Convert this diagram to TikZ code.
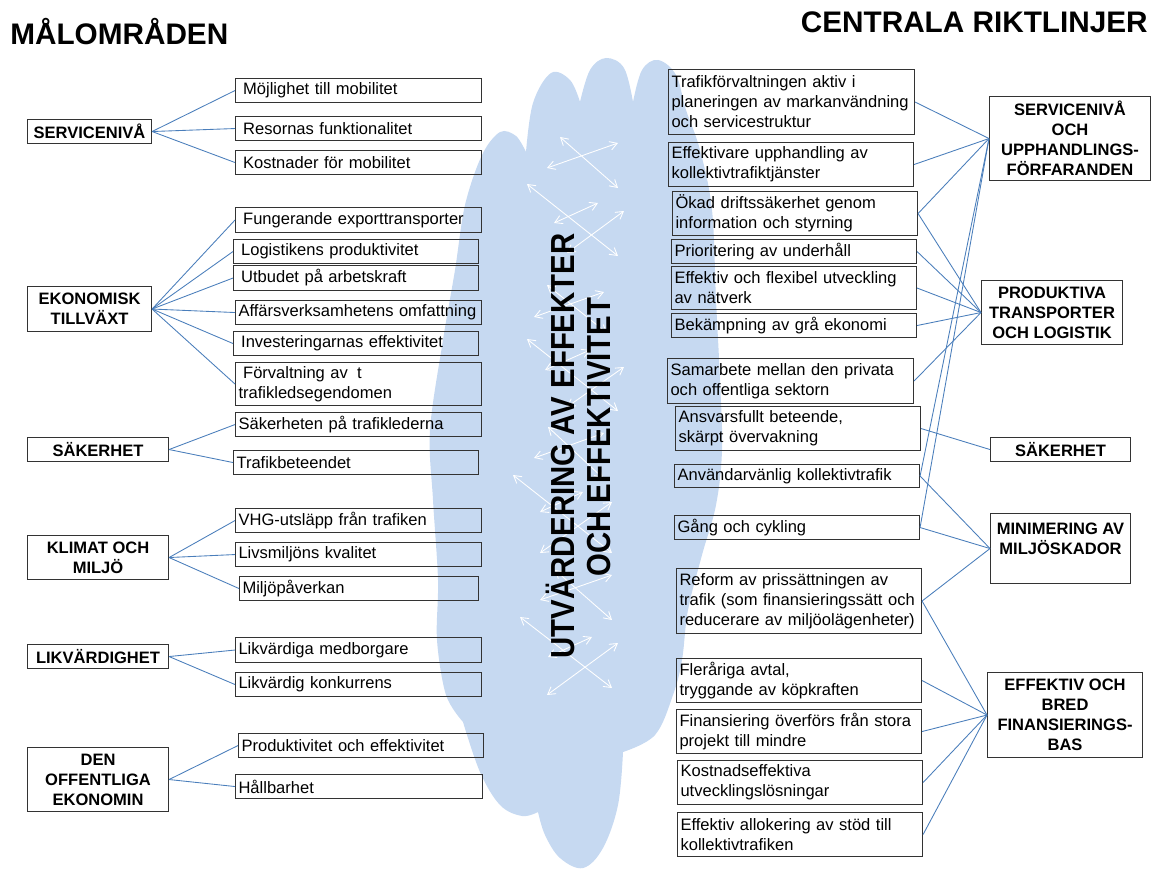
\documentclass[tikz,border=0pt]{standalone}
\usepackage{fontspec}
\setmainfont{Liberation Sans}
\usetikzlibrary{arrows.meta}
\definecolor{cloudc}{HTML}{C6D9F1}
\definecolor{connc}{HTML}{4A7EBB}
\newcommand\mybox[6]{%
  \pgfmathsetmacro\mbw{(#4-#2)*0.75-4.5}%
  \pgfmathsetmacro\mbh{(#5-#3)*0.75}%
  \node[itembox, text width=\mbw pt, minimum height=\mbh pt] (#1) at (#2,#3) {#6};}
\newcommand\catbox[6]{%
  \pgfmathsetmacro\mbw{(#4-#2)*0.75}%
  \pgfmathsetmacro\mbh{(#5-#3)*0.75}%
  \node[catnode, minimum width=\mbw pt, minimum height=\mbh pt] (#1) at (#2,#3) {#6};}
\newcommand\lsp{\hspace*{0.28em}}
\begin{document}
\begin{tikzpicture}[x=0.75pt,y=-0.75pt,
  txt/.style={font=\fontsize{12.4}{15}\selectfont},
  itembox/.style={draw=black!80, line width=0.8pt, anchor=north west, align=left,
    inner xsep=2.25pt, inner ysep=0pt, txt},
  catnode/.style={draw=black!80, line width=0.8pt, anchor=north west, align=center,
    inner sep=0pt, font=\fontsize{12.4}{15}\selectfont\bfseries},
  conn/.style={draw=connc, line width=0.65pt},
  warr/.style={draw=white, line width=0.65pt,
    {Straight Barb[length=5.5pt,width=6.5pt]}-{Straight Barb[length=5.5pt,width=6.5pt]}},
  titletxt/.style={inner sep=0pt, font=\fontsize{22.3}{26}\selectfont\bfseries},
  vtxt/.style={rotate=90, anchor=base, inner sep=0pt, font=\fontsize{25}{30}\selectfont\bfseries}
]
\useasboundingbox (0,0) rectangle (1153,870);

% cloud
\fill[cloudc] plot[smooth, tension=0.55] coordinates {(463,722) (446,695) (437,640) (438,580) (433,500) (430,430) (443,340) (455,270) (465,205) (482,155) (500,132) (516,136) (526,152)}
 -- plot[smooth, tension=0.6] coordinates {(526,152) (533,103) (551,73) (570,80) (580,102)}
 -- plot[smooth, tension=0.6] coordinates {(580,102) (590,70) (606,58) (624,68) (633,102)}
 -- plot[smooth, tension=0.6] coordinates {(633,102) (642,70) (658,60) (676,75) (686,110) (700,150) (712,210) (716,300) (720,380) (722,450) (716,505) (702,555) (688,610) (682,660) (673,695) (655,735) (623,752)}
 -- plot[smooth, tension=0.6] coordinates {(623,752) (618,805) (603,848) (583,868) (560,858) (545,835) (538,812)}
 -- plot[smooth, tension=0.6] coordinates {(538,812) (522,816) (500,805) (480,772) (463,722)}
 -- cycle;

% arrows in the cloud
\draw[warr] (560,137) -- (618,188);
\draw[warr] (618,143) -- (547,168);
\draw[warr] (527,184) -- (618,256);
\draw[warr] (598,203) -- (554,223);
\draw[warr] (624,211) -- (567,253);
\draw[warr] (547,285) -- (607,333);
\draw[warr] (604,292) -- (534,317);
\draw[warr] (527,339) -- (618,411);
\draw[warr] (590,350) -- (545,370);
\draw[warr] (624,367) -- (567,407);
\draw[warr] (548,427) -- (603,478);
\draw[warr] (604,433) -- (534,458);
\draw[warr] (513,475) -- (612,553);
\draw[warr] (583,492) -- (540,512);
\draw[warr] (612,502) -- (540,553);
\draw[warr] (555,570) -- (612,620);
\draw[warr] (612,575) -- (540,600);
\draw[warr] (520,617) -- (612,688);
\draw[warr] (592,637) -- (548,657);
\draw[warr] (618,643) -- (547,695);

% vertical text
\node[vtxt] (v1) at (574,446) {\scalebox{0.88}[1]{UTVÄRDERING AV EFFEKTER}};
\node[vtxt] (v2) at (610,437) {\scalebox{0.88}[1]{OCH EFFEKTIVITET}};

% titles
\node[titletxt, anchor=base west] (t1) at (10,45) {MÅLOMRÅDEN};
\node[titletxt, anchor=base east] (t2) at (1148,33) {CENTRALA RIKTLINJER};

% left categories
\catbox{c1}{27}{119}{151}{143}{SERVICENIVÅ}
\catbox{c2}{27}{286}{151}{331}{EKONOMISK\\TILLVÄXT}
\catbox{c3}{27}{437}{168}{461}{SÄKERHET}
\catbox{c4}{27}{535}{168}{579}{KLIMAT OCH\\MILJÖ}
\catbox{c5}{27}{644}{168}{668}{LIKVÄRDIGHET}
\catbox{c6}{27}{747}{168}{811}{DEN\\OFFENTLIGA\\EKONOMIN}

% left items
\mybox{m1}{235}{78}{481}{102}{\lsp Möjlighet till mobilitet}
\mybox{m2}{235}{116}{481}{140}{\lsp Resornas funktionalitet}
\mybox{m3}{235}{150}{481}{174}{\lsp Kostnader för mobilitet}
\mybox{e1}{235}{207}{481}{232}{\lsp Fungerande exporttransporter}
\mybox{e2}{233}{239}{478}{263}{\lsp Logistikens produktivitet}
\mybox{e3}{233}{265}{478}{290}{\lsp Utbudet på arbetskraft}
\mybox{e4}{235}{300}{481}{324}{Affärsverksamhetens omfattning}
\mybox{e5}{233}{331}{478}{355}{\lsp Investeringarnas effektivitet}
\mybox{e6}{235}{362}{481}{405}{\lsp Förvaltning av\lsp\lsp t\\trafikledsegendomen}
\mybox{s1}{235}{412}{481}{436}{Säkerheten på trafiklederna}
\mybox{s2}{233}{450}{478}{474}{Trafikbeteendet}
\mybox{k1}{235}{508}{481}{532}{VHG-utsläpp från trafiken}
\mybox{k2}{235}{542}{481}{566}{Livsmiljöns kvalitet}
\mybox{k3}{239}{576}{478}{600}{Miljöpåverkan}
\mybox{l1}{235}{637}{481}{662}{Likvärdiga medborgare}
\mybox{l2}{235}{672}{481}{696}{Likvärdig konkurrens}
\mybox{o1}{238}{733}{483}{757}{Produktivitet och effektivitet}
\mybox{o2}{235}{774}{482}{798}{Hållbarhet}

% left connectors
\foreach \a/\b in {c1/m1,c1/m2,c1/m3,c2/e1,c2/e2,c2/e3,c2/e4,c2/e5,c2/e6,c3/s1,c3/s2,c4/k1,c4/k2,c4/k3,c5/l1,c5/l2,c6/o1,c6/o2}
  \draw[conn] (\a.east) -- (\b.west);

% right items
\mybox{r1}{668}{69}{914}{134}{Trafikförvaltningen aktiv i\\planeringen av markanvändning\\och servicestruktur}
\mybox{r2}{668}{142}{913}{186}{Effektivare upphandling av\\kollektivtrafiktjänster}
\mybox{r3}{672}{191}{917}{235}{Ökad driftssäkerhet genom\\information och styrning}
\mybox{r4}{671}{239}{916}{263}{Prioritering av underhåll}
\mybox{r5}{671}{266}{916}{309}{Effektiv och flexibel utveckling\\av nätverk}
\mybox{r6}{671}{313}{916}{337}{Bekämpning av grå ekonomi}
\mybox{r7}{667}{358}{913}{403}{Samarbete mellan den privata\\och offentliga sektorn}
\mybox{r8}{675}{406}{920}{450}{Ansvarsfullt beteende,\\skärpt övervakning}
\mybox{r9}{674}{464}{919}{487}{Användarvänlig kollektivtrafik}
\mybox{r10}{674}{515}{919}{539}{Gång och cykling}
\mybox{r11}{676}{568}{921}{633}{Reform av prissättningen av\\trafik (som finansieringssätt och\\reducerare av miljöolägenheter)}
\mybox{r12}{676}{658}{921}{702}{Fleråriga avtal,\\tryggande av köpkraften}
\mybox{r13}{676}{709}{921}{753}{Finansiering överförs från stora\\projekt till mindre}
\mybox{r14}{677}{760}{922}{804}{Kostnadseffektiva\\utvecklingslösningar}
\mybox{r15}{677}{812}{922}{856}{Effektiv allokering av stöd till\\kollektivtrafiken}

% right categories
\catbox{R1}{989}{96}{1150}{180}{SERVICENIVÅ\\OCH\\UPPHANDLINGS-\\FÖRFARANDEN}
\catbox{R2}{981}{280}{1122}{344}{PRODUKTIVA\\TRANSPORTER\\OCH LOGISTIK}
\catbox{R3}{990}{437}{1130}{461}{SÄKERHET}
\catbox{R4}{990}{513}{1130}{583}{MINIMERING AV\\MILJÖSKADOR\\\mbox{}}
\catbox{R5}{987}{672}{1142}{757}{EFFEKTIV OCH\\BRED\\FINANSIERINGS-\\BAS}

% right connectors
\foreach \a/\b in {r1/R1,r2/R1,r3/R1,r9/R1,r10/R1,r3/R2,r4/R2,r5/R2,r6/R2,r7/R2,r8/R3,r9/R4,r10/R4,r11/R4,r11/R5,r12/R5,r13/R5,r14/R5,r15/R5}
  \draw[conn] (\a.east) -- (\b.west);
\end{tikzpicture}
\end{document}
